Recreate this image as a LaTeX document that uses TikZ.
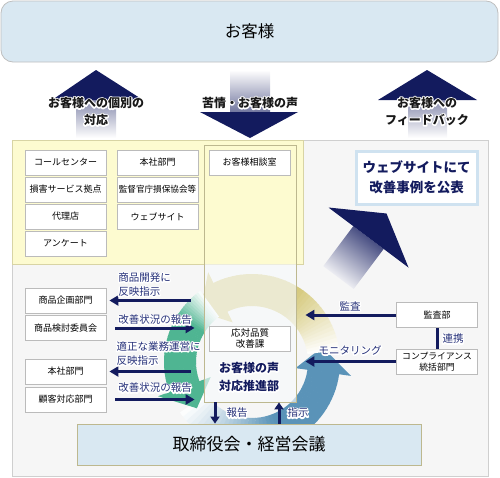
\documentclass[tikz,border=0pt]{standalone}
\usepackage{fontspec}
\setmainfont{Noto Sans CJK JP}
\usetikzlibrary{arrows.meta,calc}
\definecolor{navy}{HTML}{131B5E}
\definecolor{lblnavy}{HTML}{27327A}
\definecolor{skyfill}{HTML}{D9E8F2}
\definecolor{panelgray}{HTML}{F6F6F6}
\definecolor{panelline}{HTML}{CFCFCF}
\definecolor{yellowfill}{HTML}{FDFBD0}
\definecolor{yellowline}{HTML}{D8D4A4}
\definecolor{olive}{HTML}{BDB88F}
\definecolor{boxgray}{HTML}{BBBBBB}
\definecolor{ringgreen}{HTML}{4FB592}
\definecolor{ringblue}{HTML}{5A93B8}
\definecolor{ringkhaki}{HTML}{D6CA7E}
\definecolor{webline}{HTML}{CFE2F0}
% white outline copy drawn with text render mode 1 (stroke only)
\newcommand\outl{\special{pdf:literal direct 1 Tr 1 1 1 RG 2.6 w 1 j}}
\newcommand\outlend{\special{pdf:literal direct 0 Tr}}
\newcommand\hnode[4]{%
  \node[#1,text=white] at (#3) {\outl#4\outlend};
  \node[#1] (#2) at (#3) {#4};
}
\newcommand\ringseg[4]{% colour, start angle, head angle, fade fraction
  \pgfmathsetmacro\rsspan{#3-#2}
  \foreach \i in {0,...,39}{
    \pgfmathsetmacro\aa{#2+\rsspan*\i/40}
    \pgfmathsetmacro\bb{#2+\rsspan*(\i+1)/40+0.4}
    \pgfmathtruncatemacro\pp{min(100,100*(\i+0.5)/(40*#4))}
    \fill[#1!\pp!white] ($(C)+(\aa:56)$) arc[start angle=\aa,end angle=\bb,radius=56]
      -- ($(C)+(\bb:88)$) arc[start angle=\bb,end angle=\aa,radius=88] -- cycle;
  }
  \fill[#1] ($(C)+(#3:44)$) -- ($(C)+(#3:100)$) -- ($(C)+({#3+20}:72)$) -- cycle;
}
\tikzset{
  box/.style={draw=boxgray, fill=white, line width=0.8pt, minimum width=81pt,
    minimum height=25pt, inner sep=0pt, font=\fontsize{9}{11}\selectfont, align=center},
  toplbl/.style={font=\fontsize{12}{17}\bfseries\selectfont, text=black!90, align=center, inner sep=0pt},
  midlbl/.style={font=\fontsize{10.5}{14}\selectfont, text=lblnavy, align=left, inner sep=0pt},
  arr/.style={draw=navy, line width=3pt, -{Triangle[length=9pt,width=10pt]}},
  link/.style={draw=navy, line width=3pt},
}
\begin{document}
\begin{tikzpicture}[x=1pt,y=1pt]
\useasboundingbox (0,0) rectangle (500,-477);
% top customer box
\node[draw=black!25, fill=skyfill, rounded corners=12pt, line width=0.8pt,
  minimum width=497pt, minimum height=61pt, inner sep=0pt,
  font=\fontsize{16.5}{18}\selectfont] (cust) at (249.5,-31.5) {お客様};
% big vertical arrows
\shade[top color=navy!50!white, bottom color=white] (76,-100) rectangle (116,-138);
\fill[navy] (52,-100) -- (96,-70) -- (143,-100) -- cycle;
\shade[top color=white, bottom color=navy!60!white] (230,-70) rectangle (270,-112);
\fill[navy] (200,-112) -- (298,-112) -- (250,-138) -- cycle;
\shade[top color=navy!50!white, bottom color=white] (408,-100) rectangle (447,-138);
\fill[navy] (378,-100) -- (427,-70) -- (477,-100) -- cycle;
\hnode{toplbl}{lblA}{96,-111.5}{お客様への個別の\\対応}
\hnode{toplbl}{lblB}{250,-103}{苦情・お客様の声}
\hnode{toplbl}{lblC}{427,-111.5}{お客様への\\フィードバック}
% outer panel
\node[draw=panelline, fill=panelgray, line width=0.8pt, minimum width=476pt,
  minimum height=336pt, inner sep=0pt] (panel) at (250,-308) {};
% cycle ring
\coordinate (C) at (252,-362);
\ringseg{ringblue}{215}{352}{0.55}
\ringseg{ringkhaki}{8}{116}{0.45}
\ringseg{ringgreen}{126}{200}{0.3}
% yellow panel
\node[draw=yellowline, fill=yellowfill, line width=0.8pt, minimum width=291pt,
  minimum height=124pt, inner sep=0pt] (ypanel) at (157.5,-202) {};
% column
\fill[fill=white!80!skyfill, opacity=0.65] (204,-264) rectangle (296,-402);
\node[draw=olive, line width=0.8pt, minimum width=92pt, minimum height=257pt,
  inner sep=0pt] (col) at (250,-273.5) {};
% diagonal arrow
\shade[top color=navy!85!white, bottom color=white, shading angle=-36.87]
  (353.3,-226.1) -- (383.7,-248.9) -- (353.7,-288.9) -- (323.3,-266.1) -- cycle;
\fill[navy] (328.5,-207.5) -- (386.5,-213.5) -- (408.5,-267.5) -- cycle;
% web publication box
\node[draw=webline, fill=white, line width=3pt, minimum width=121pt, minimum height=53pt,
  inner sep=0pt, align=center, text=navy, font=\fontsize{13.5}{20}\bfseries\selectfont]
  (web) at (416.5,-177.5) {ウェブサイトにて\\改善事例を公表};
% upper boxes
\node[box] (call) at (65.5,-162.5) {コールセンター};
\node[box] (sonsa) at (65.5,-189.5) {損害サービス拠点};
\node[box] (dairi) at (65.5,-216.5) {代理店};
\node[box] (anke) at (65.5,-243.5) {アンケート};
\node[box] (honsha1) at (157.5,-162.5) {本社部門};
\node[box, font=\fontsize{8.6}{10}\selectfont] (kantoku) at (157.5,-189.5) {監督官庁損保協会等};
\node[box] (websi) at (157.5,-216.5) {ウェブサイト};
\node[box] (soudan) at (249.5,-162.5) {お客様相談室};
% lower left boxes
\node[box] (kikaku) at (65.5,-300.5) {商品企画部門};
\node[box] (kento) at (65.5,-328) {商品検討委員会};
\node[box] (honsha2) at (65.5,-371.5) {本社部門};
\node[box] (kokyaku) at (65.5,-399.5) {顧客対応部門};
% center boxes
\node[box, minimum height=25pt, font=\fontsize{9.5}{11.5}\selectfont] (hinshitsu) at (250,-338.5) {応対品質\\改善課};
\hnode{font=\fontsize{12}{18}\bfseries\selectfont, text=navy, align=center, inner sep=0pt}{suishin}{249,-377}{お客様の声\\対応推進部}
% right boxes
\node[box] (kansa) at (437,-315) {監査部};
\node[box, font=\fontsize{8.8}{10.5}\selectfont] (comp) at (437,-361.5) {コンプライアンス\\統括部門};
% bottom box
\node[draw=olive, fill=skyfill, line width=0.8pt, minimum width=344pt, minimum height=41pt,
  inner sep=0pt, font=\fontsize{17}{20}\selectfont] (board) at (249,-444.5) {取締役会・経営会議};
% left arrows and labels
\draw[arr] ([xshift=-13pt]col.west |- kikaku.east) -- ([xshift=3pt]kikaku.east);
\draw[arr] ([xshift=9pt]kento.east) -- ([xshift=-9pt]col.west |- kento.east);
\draw[arr] ([xshift=-13pt]col.west |- honsha2.east) -- ([xshift=3pt]honsha2.east);
\draw[arr] ([xshift=9pt]kokyaku.east) -- ([xshift=-9pt]col.west |- kokyaku.east);
\hnode{midlbl}{l1}{144.5,-284.5}{商品開発に\\反映指示}
\hnode{midlbl}{l2}{155,-320}{改善状況の報告}
\hnode{midlbl}{l3}{158.5,-353.5}{適正な業務運営に\\反映指示}
\hnode{midlbl}{l4}{155,-388}{改善状況の報告}
% right arrows and labels
\draw[arr] (kansa.west) -- ([xshift=9pt]col.east |- kansa.west);
\draw[arr] (comp.west) -- ([xshift=9pt]col.east |- comp.west);
\draw[link] (kansa.south) -- (comp.north);
\hnode{midlbl}{l5}{350,-306}{監査}
\hnode{midlbl}{l6}{350,-350.5}{モニタリング}
\hnode{midlbl}{l7}{453,-339}{連携}
% report / instruction
\draw[arr, -{Triangle[length=7pt,width=9pt]}] (col.south -| 215,0) -- (board.north -| 215,0);
\draw[arr, -{Triangle[length=7pt,width=9pt]}] (board.north -| 279,0) -- (col.south -| 279,0);
\hnode{midlbl}{l8}{237,-413}{報告}
\hnode{midlbl}{l9}{298,-413}{指示}
\end{tikzpicture}
\end{document}
